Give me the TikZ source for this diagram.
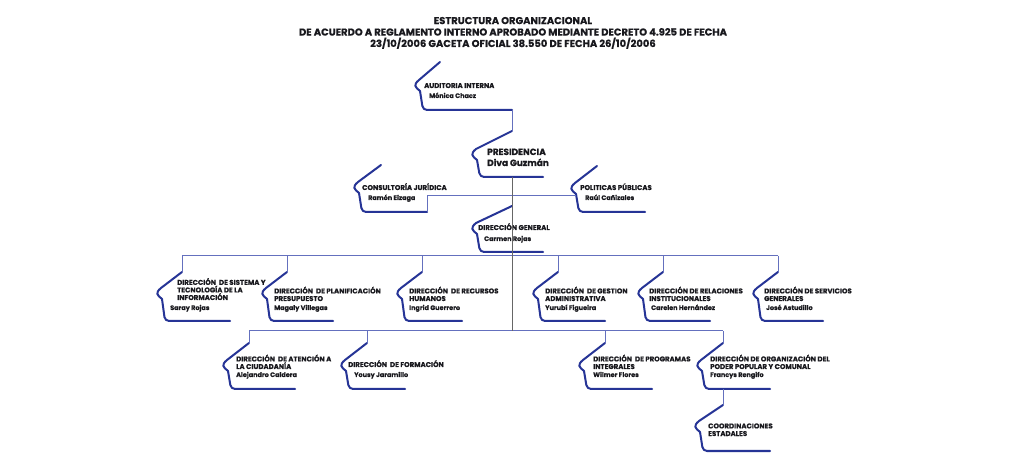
\documentclass[tikz,border=0pt]{standalone}
\usepackage{fontspec}
\setmainfont{Poppins}[BoldFeatures={FakeBold=0.5}]
\usetikzlibrary{calc}
\definecolor{orgblue}{RGB}{38,52,150}
\definecolor{linkblue}{RGB}{100,112,190}
\definecolor{inkgray}{RGB}{25,25,30}
% bracket of one unit: name, top x/y, diagonal end x/y, bottom y, right x
\newcommand\housebox[7]{%
  \coordinate (#1-top) at (#2,#3);
  \draw[houseline] (#1-top) -- (#4,#5)
    .. controls +(-6,5) and +(-5,-4) .. ++(1,11)
    [rounded corners=4bp] -- (#4+4,#6) -- (#7,#6);}

\begin{document}
\begin{tikzpicture}[x=1bp,y=-1bp,
    houseline/.style={orgblue,line width=2bp,line cap=round},
    link/.style={linkblue,line width=1bp},
    trunk/.style={draw=black!60,line width=1bp},
    unit/.style={anchor=base west,inner sep=0pt,align=left,text=inkgray,
      font=\bfseries\fontsize{7}{7.6}\selectfont},
    who/.style={unit,font=\bfseries\fontsize{6.5}{7.6}\selectfont},
    chief/.style={unit,font=\bfseries\fontsize{9}{11}\selectfont},
    headline/.style={anchor=base,inner sep=0pt,align=center,text=inkgray,
      font=\bfseries\fontsize{10}{11.5}\selectfont}]
  \useasboundingbox[fill=white] (0,0) rectangle (1024,459);

  % multi-line texts sit on the baseline of their last line
  \node[headline] (head) at (513,47) {ESTRUCTURA ORGANIZACIONAL\\
    DE ACUERDO A REGLAMENTO INTERNO APROBADO MEDIANTE DECRETO 4.925 DE FECHA\\
    23/10/2006 GACETA OFICIAL 38.550 DE FECHA 26/10/2006};

  % brackets
  \housebox{aud}{440}{62}{419}{80}{110}{512}
  \housebox{pres}{512}{131}{476}{149}{177}{543}
  \housebox{con}{381}{165}{358}{182}{212}{427}
  \housebox{pol}{597}{166}{575}{183}{212}{645}
  \housebox{dg}{512}{206}{476}{223}{252}{543}
  \housebox{sis}{182}{272}{161}{288}{321}{230}
  \housebox{pla}{287}{272}{266}{288}{321}{333}
  \housebox{rec}{422}{272}{401}{288}{321}{462}
  \housebox{ges}{558}{272}{537}{288}{321}{605}
  \housebox{rel}{663}{272}{642}{288}{321}{710}
  \housebox{ser}{778}{272}{757}{288}{321}{823}
  \housebox{ate}{249}{343}{227}{360}{389}{295}
  \housebox{for}{367}{343}{345}{360}{389}{405}
  \housebox{pro}{605}{343}{583}{360}{389}{652}
  \housebox{org}{723}{343}{701}{360}{389}{770}
  \housebox{coo}{723}{405}{699}{421}{451}{770}

  % texts
  \node[unit] (aud) at (424,88) {AUDITORIA INTERNA};
  \node[who] (aud-name) at (429,98) {Mónica Chacz};
  \node[chief] (pres) at (487,155) {PRESIDENCIA};
  \node[chief] (pres-name) at (487,166) {Diva Guzmán};
  \node[unit] (con) at (362,190) {CONSULTORÍA JURÍDICA};
  \node[who] (con-name) at (368,200) {Ramón Eizaga};
  \node[unit] (pol) at (580,190) {POLITICAS PÚBLICAS};
  \node[who] (pol-name) at (585,200) {Raúl Cañizales};
  \node[unit] (dg) at (478,230) {DIRECCIÓN GENERAL};
  \node[who] (dg-name) at (484,241) {Carmen Rojas};

  \node[unit] (sis) at (177,300) {DIRECCIÓN\ \ DE SISTEMA Y\\TECNOLOGÍA DE LA\\INFORMACIÓN};
  \node[who] (sis-name) at (170,310) {Saray Rojas};
  \node[unit] (pla) at (274,301) {DIRECCIÓN\ \ DE PLANIFICACIÓN\\PRESUPUESTO};
  \node[who] (pla-name) at (274,310) {Magaly Villegas};
  \node[unit] (rec) at (409,301) {DIRECCIÓN\ \ DE RECURSOS\\HUMANOS};
  \node[who] (rec-name) at (409,310) {Ingrid Guerrero};
  \node[unit] (ges) at (545,301) {DIRECCIÓN\ \ DE GESTION\\ADMINISTRATIVA};
  \node[who] (ges-name) at (545,310) {Yurubí Figueira};
  \node[unit] (rel) at (649,301) {DIRECCIÓN DE RELACIONES\\INSTITUCIONALES};
  \node[who] (rel-name) at (651,310) {Carelen Hernández};
  \node[unit] (ser) at (764,301) {DIRECCIÓN DE SERVICIOS\\GENERALES};
  \node[who] (ser-name) at (766,310) {José Astudillo};

  \node[unit] (ate) at (236,369) {DIRECCIÓN\ \ DE ATENCIÓN A\\LA CIUDADANÍA};
  \node[who] (ate-name) at (236,377) {Alejandro Caldera};
  \node[unit] (for) at (348,367) {DIRECCIÓN\ \ DE FORMACIÓN};
  \node[who] (for-name) at (354,377) {Yousy Jaramillo};
  \node[unit] (pro) at (593,369) {DIRECCIÓN\ \ DE PROGRAMAS\\INTEGRALES};
  \node[who] (pro-name) at (593,377) {Wilmer Flores};
  \node[unit] (org) at (710,369) {DIRECCIÓN DE ORGANIZACIÓN DEL\\PODER POPULAR Y COMUNAL};
  \node[who] (org-name) at (710,377) {Francys Rengifo};
  \node[unit] (coo) at (708,436) {COORDINACIONES\\ESTADALES};

  % connectors
  \coordinate (aud-end) at (512,110);
  \coordinate (pres-foot) at (512,177);
  \coordinate (con-end) at (427,212);
  \coordinate (staff) at (427,196);
  \coordinate (pol-in) at (576,196);
  \coordinate (bar2) at (512,256);
  \coordinate (bar3) at (512,331);
  \coordinate (org-foot) at (723,389);
  \draw[link] (aud-end) -- (pres-top);
  \draw[link] (con-end) -- (staff) -- (pol-in);
  \draw[link] (sis-top |- bar2) -- (ser-top |- bar2);
  \foreach \u in {sis,pla,rec,ges,rel,ser}
    \draw[link] (\u-top |- bar2) -- (\u-top);
  \draw[link] (ate-top |- bar3) -- (org-top |- bar3);
  \foreach \u in {ate,for,pro,org}
    \draw[link] (\u-top |- bar3) -- (\u-top);
  \draw[link] (org-foot) -- (coo-top);
  \draw[trunk] (pres-foot) -- (bar3);
\end{tikzpicture}
\end{document}
